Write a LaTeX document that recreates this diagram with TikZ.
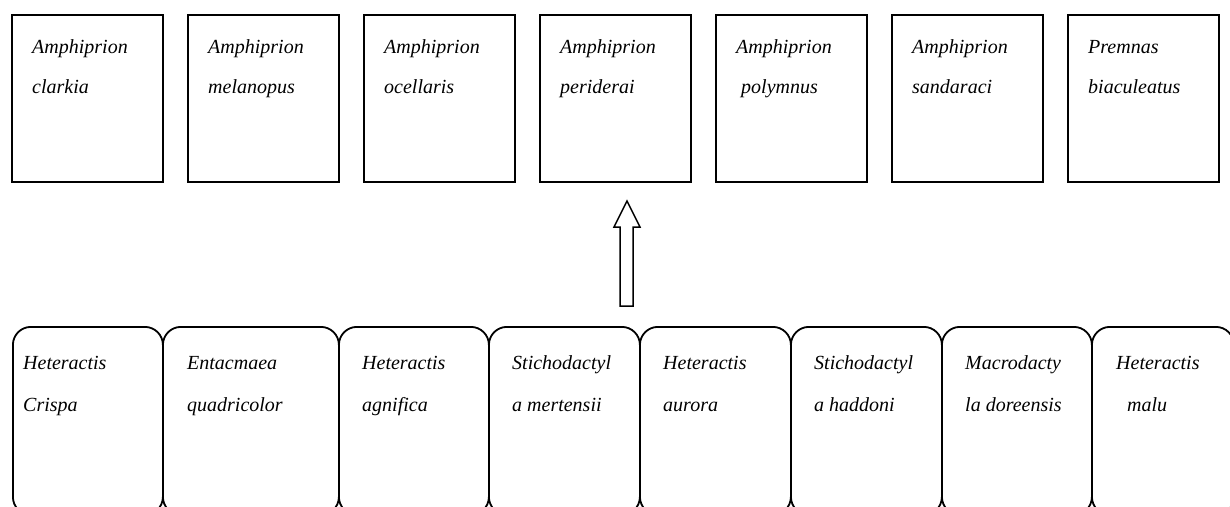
\documentclass[tikz,border=0pt]{standalone}
\usepackage{fontspec}
\setmainfont{Liberation Serif}
\tikzset{
  topbox/.style={draw=black, line width=1.8pt, anchor=north west, minimum width=151pt, minimum height=167pt, inner sep=0pt},
  botbox/.style={draw=black, line width=1.8pt, rounded corners=18pt, anchor=north west, minimum height=188pt, inner sep=0pt},
  txt/.style={anchor=base west, inner sep=0pt, font=\fontsize{20}{24}\selectfont\itshape},
  blockarrow/.style={draw=black, line width=1.5pt, fill=white, line join=miter}
}
\begin{document}
\begin{tikzpicture}[x=1pt,y=-1pt]
\useasboundingbox (0,0) rectangle (1230,506);
\clip (0,0) rectangle (1230,506);
\fill[white] (0,0) rectangle (1230,506);
% top boxes
\node[topbox] (t1) at (11,14) {};
\node[topbox] (t2) at (187,14) {};
\node[topbox] (t3) at (363,14) {};
\node[topbox] (t4) at (539,14) {};
\node[topbox] (t5) at (715,14) {};
\node[topbox] (t6) at (891,14) {};
\node[topbox] (t7) at (1067,14) {};
\node[txt] (t1a) at (32,53) {Amphiprion};
\node[txt] (t1b) at (32,93) {clarkia};
\node[txt] (t2a) at (208,53) {Amphiprion};
\node[txt] (t2b) at (208,93) {melanopus};
\node[txt] (t3a) at (384,53) {Amphiprion};
\node[txt] (t3b) at (384,93) {ocellaris};
\node[txt] (t4a) at (560,53) {Amphiprion};
\node[txt] (t4b) at (560,93) {periderai};
\node[txt] (t5a) at (736,53) {Amphiprion};
\node[txt] (t5b) at (741,93) {polymnus};
\node[txt] (t6a) at (912,53) {Amphiprion};
\node[txt] (t6b) at (912,93) {sandaraci};
\node[txt] (t7a) at (1088,53) {Premnas};
\node[txt] (t7b) at (1088,93) {biaculeatus};
% bottom boxes
\node[botbox, minimum width=150pt] (b1) at (12,326) {};
\node[botbox, minimum width=176pt] (b2) at (162,326) {};
\node[botbox, minimum width=150pt] (b3) at (338,326) {};
\node[botbox, minimum width=151pt] (b4) at (488,326) {};
\node[botbox, minimum width=151pt] (b5) at (639,326) {};
\node[botbox, minimum width=151pt] (b6) at (790,326) {};
\node[botbox, minimum width=150pt] (b7) at (941,326) {};
\node[botbox, minimum width=142pt] (b8) at (1091,326) {};
\node[txt] (b1a) at (23,369) {Heteractis};
\node[txt] (b1b) at (23,411) {Crispa};
\node[txt] (b2a) at (187,369) {Entacmaea};
\node[txt] (b2b) at (187,411) {quadricolor};
\node[txt] (b3a) at (362,369) {Heteractis};
\node[txt] (b3b) at (362,411) {agnifica};
\node[txt] (b4a) at (512,369) {Stichodactyl};
\node[txt] (b4b) at (512,411) {a mertensii};
\node[txt] (b5a) at (663,369) {Heteractis};
\node[txt] (b5b) at (663,411) {aurora};
\node[txt] (b6a) at (814,369) {Stichodactyl};
\node[txt] (b6b) at (814,411) {a haddoni};
\node[txt] (b7a) at (965,369) {Macrodacty};
\node[txt] (b7b) at (965,411) {la doreensis};
\node[txt] (b8a) at (1116,369) {Heteractis};
\node[txt] (b8b) at (1127,411) {malu};
% block arrow
\draw[blockarrow] (620,306) -- (620,227) -- (614,227) -- (627,201) -- (640,227) -- (633,227) -- (633,306) -- cycle;
\end{tikzpicture}
\end{document}
